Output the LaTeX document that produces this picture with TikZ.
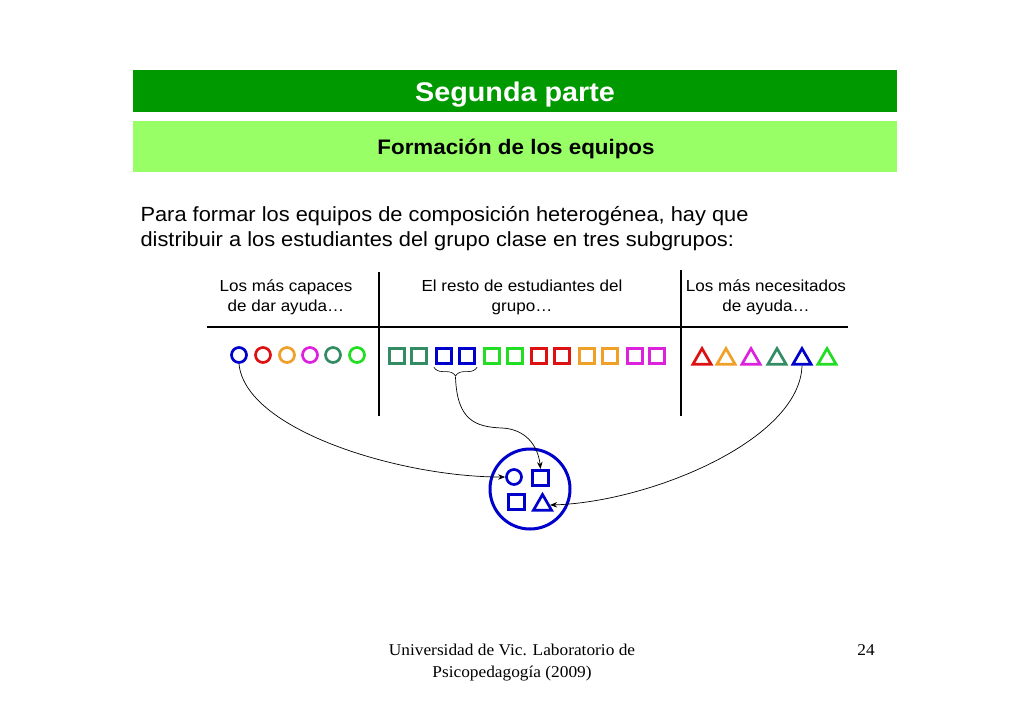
\documentclass[tikz,border=0pt]{standalone}
\usepackage{fontspec}
\setmainfont{Liberation Sans}[FakeStretch=1.065]
\newfontfamily\footfont{Liberation Serif}[FakeStretch=1.05]
\usetikzlibrary{shapes.geometric,arrows.meta,decorations.pathreplacing}
\definecolor{cblue}{RGB}{0,0,204}
\definecolor{cred}{RGB}{221,17,17}
\definecolor{corange}{RGB}{240,160,40}
\definecolor{cmag}{RGB}{221,34,221}
\definecolor{cteal}{RGB}{51,140,100}
\definecolor{cgreen}{RGB}{34,221,34}
\definecolor{darkbar}{RGB}{0,153,0}
\definecolor{lightbar}{RGB}{153,255,102}
\tikzset{
  shp/.style={draw=#1, line width=2.7pt, inner sep=0pt, fill=none},
  circ/.style={shp=#1, circle, minimum size=15pt},
  sqr/.style={shp=#1, rectangle, minimum size=15.5pt},
  tri/.style={shp=#1, regular polygon, regular polygon sides=3, minimum size=21pt},
  sep/.style={line width=2.6pt, black},
  conn/.style={black, line width=0.7pt, -{Stealth[length=7pt,width=5.5pt]}},
  lbl/.style={font=\fontsize{16}{19}\selectfont, anchor=base},
  para/.style={font=\fontsize{20.5}{25}\selectfont, anchor=base west},
  foot/.style={font=\footfont\fontsize{16.5}{20}\selectfont, anchor=base}
}
\begin{document}
\begin{tikzpicture}[x=1pt,y=-1pt]
\useasboundingbox (0,0) rectangle (1024,724);
% header bars
\fill[darkbar] (133,70) rectangle (897,112);
\fill[lightbar] (133,121) rectangle (897,172);
\node[font=\bfseries\fontsize{27}{30}\selectfont, text=white, anchor=base] (title) at (515,101) {Segunda parte};
\node[font=\bfseries\fontsize{21}{25}\selectfont, anchor=base] (subtitle) at (516,154) {Formación de los equipos};
% paragraph
\node[para] (p1) at (137,221) {Para formar los equipos de composición heterogénea, hay que};
\node[para] (p2) at (137,246) {distribuir a los estudiantes del grupo clase en tres subgrupos:};
% column labels
\node[lbl] (l1a) at (286,291) {Los más capaces};
\node[lbl] (l1b) at (286,311) {de dar ayuda…};
\node[lbl] (l2a) at (522,291) {El resto de estudiantes del};
\node[lbl] (l2b) at (522,311) {grupo…};
\node[lbl] (l3a) at (766,291) {Los más necesitados};
\node[lbl] (l3b) at (766,311) {de ayuda…};
% separators
\draw[sep] (207,327) -- (848,327);
\draw[sep] (379,272) -- (379,416);
\draw[sep] (681,270) -- (681,416);
% circles
\node[circ=cblue]   (c1) at (239,355) {};
\node[circ=cred]    (c2) at (263,355) {};
\node[circ=corange] (c3) at (287,355) {};
\node[circ=cmag]    (c4) at (310,355) {};
\node[circ=cteal]   (c5) at (333,355) {};
\node[circ=cgreen]  (c6) at (357,355) {};
% squares
\node[sqr=cteal]   (s1)  at (397,356) {};
\node[sqr=cteal]   (s2)  at (419,356) {};
\node[sqr=cblue]   (s3)  at (444,356) {};
\node[sqr=cblue]   (s4)  at (467,356) {};
\node[sqr=cgreen]  (s5)  at (492,356) {};
\node[sqr=cgreen]  (s6)  at (515,356) {};
\node[sqr=cred]    (s7)  at (539,356) {};
\node[sqr=cred]    (s8)  at (562,356) {};
\node[sqr=corange] (s9)  at (587,356) {};
\node[sqr=corange] (s10) at (610,356) {};
\node[sqr=cmag]    (s11) at (635,356) {};
\node[sqr=cmag]    (s12) at (657,356) {};
% triangles
\node[tri=cred]    (t1) at (702,359) {};
\node[tri=corange] (t2) at (726,359) {};
\node[tri=cmag]    (t3) at (751,359) {};
\node[tri=cteal]   (t4) at (777,359) {};
\node[tri=cblue]   (t5) at (802,359) {};
\node[tri=cgreen]  (t6) at (827,359) {};
% brace
\draw[black, line width=0.6pt, decorate, decoration={brace, mirror, amplitude=9pt}]
  ([xshift=-1pt,yshift=-2pt]s3.south west) -- ([xshift=1pt,yshift=-2pt]s4.south east)
  coordinate[midway, yshift=-10pt] (btip);
% team
\node[draw=cblue, line width=3pt, circle, minimum size=80pt, inner sep=0pt] (team) at (530,489) {};
\node[circ=cblue] (ic) at (514,477) {};
\node[sqr=cblue] (isq1) at (540.5,478) {};
\node[sqr=cblue] (isq2) at (516.5,502) {};
\node[tri=cblue] (itri) at (542.5,505) {};
% connectors
\draw[conn] (c1.south) .. controls (245,430) and (400,477) .. (ic.west);
\draw[conn] (btip) .. controls (457,420) and (475,427) .. (502,428)
  .. controls (525,429) and (538,445) .. (isq1.north);
\draw[conn] (t5.south) .. controls (800,440) and (650,502) .. (itri.east);
% footer
\node[foot] (f1) at (512,655) {Universidad de Vic. Laboratorio de};
\node[foot] (f2) at (512,677) {Psicopedagogía (2009)};
\node[foot] (pg) at (866,655) {24};
\end{tikzpicture}
\end{document}
